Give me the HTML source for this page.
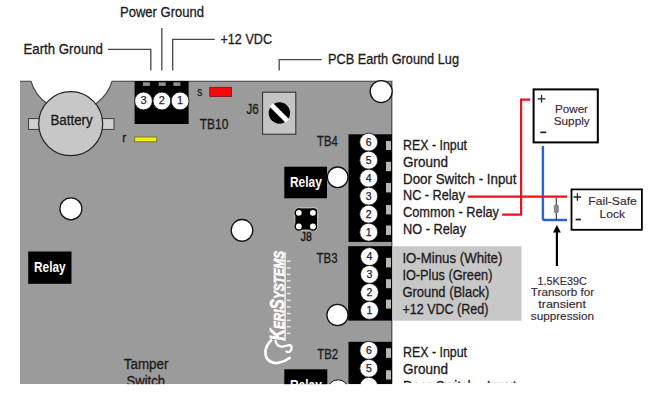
<!DOCTYPE html>
<html><head><meta charset="utf-8">
<style>
html,body{margin:0;padding:0;background:#fff;width:650px;height:408px;overflow:hidden}
svg{display:block}
text{font-family:"Liberation Sans",sans-serif}
.lbl{font-size:14px;fill:#1e1a1c;stroke:#1e1a1c;stroke-width:0.3px}
.brd{font-size:14px;fill:#1a1a1a;stroke:#1a1a1a;stroke-width:0.3px}
.num{font-size:10.5px;fill:#1c1c30;stroke:#1c1c30;stroke-width:0.25px;text-anchor:middle}
.dg{font-size:11px;fill:#3a2838}
.dg text{stroke:#3a2838;stroke-width:0.15px}
</style></head>
<body>
<svg width="650" height="408" viewBox="0 0 650 408">
<!-- top labels -->
<text class="lbl" x="120" y="16.6" textLength="84" lengthAdjust="spacingAndGlyphs">Power Ground</text>
<text class="lbl" x="23.5" y="54" textLength="79.5" lengthAdjust="spacingAndGlyphs">Earth Ground</text>
<text class="lbl" x="220.5" y="43.5" textLength="51.5" lengthAdjust="spacingAndGlyphs">+12 VDC</text>
<text class="lbl" x="328" y="64.2" textLength="131" lengthAdjust="spacingAndGlyphs">PCB Earth Ground Lug</text>
<g stroke="#474747" stroke-width="1.3" fill="none">
<path d="M108 49.3H150.8V70.6"/>
<path d="M161.8 28V70.6"/>
<path d="M214.7 39.3H172.7V70.6"/>
<path d="M321.6 59.6H279.2V70.6"/>
</g>

<!-- board -->
<path d="M20 81H30.9A42.4 42.4 0 0 0 112.1 81H392V384H20Z" fill="#9b9b9b"/>
<path d="M20 81.2H30.9A42.4 42.4 0 0 0 112.1 81.2H391.8V384" fill="none" stroke="#444" stroke-width="1.15"/>

<!-- battery tabs -->
<rect x="28.5" y="118.6" width="14" height="10.8" fill="#cfcfcf" stroke="#333" stroke-width="0.9"/>
<rect x="99" y="118.6" width="15" height="10.8" fill="#cfcfcf" stroke="#333" stroke-width="0.9"/>
<circle cx="70.7" cy="123.7" r="32" fill="#c7c7c7" stroke="#222" stroke-width="1.2"/>
<text class="brd" x="50.4" y="124.5" textLength="42.3" lengthAdjust="spacingAndGlyphs">Battery</text>

<!-- TB10 -->
<rect x="134.6" y="81" width="54" height="43" fill="#000"/>
<rect x="142.9" y="82.3" width="7" height="3.6" fill="#8f8f8f"/>
<rect x="158.7" y="82.3" width="7" height="3.6" fill="#8f8f8f"/>
<rect x="173.4" y="82.3" width="7" height="3.6" fill="#8f8f8f"/>
<g fill="#fff" stroke="#111" stroke-width="0.8">
<circle cx="143.5" cy="101" r="8.9"/>
<circle cx="161.9" cy="101" r="8.9"/>
<circle cx="180.1" cy="101" r="8.9"/>
</g>
<text class="num" x="143.5" y="104.3" style="font-size:11px;stroke:#2a2a3a;stroke-width:0.25px">3</text>
<text class="num" x="161.9" y="104.3" style="font-size:11px;stroke:#2a2a3a;stroke-width:0.25px">2</text>
<text class="num" x="180.1" y="104.3" style="font-size:11px;stroke:#2a2a3a;stroke-width:0.25px">1</text>
<text class="brd" x="199.8" y="129" textLength="28.6" lengthAdjust="spacingAndGlyphs">TB10</text>
<text class="brd" x="197.2" y="96" style="font-size:12px" textLength="5" lengthAdjust="spacingAndGlyphs">s</text>
<rect x="209.8" y="87.3" width="21.8" height="9.2" fill="#f80808" stroke="#801010" stroke-width="0.8"/>
<text class="brd" x="122.3" y="142.3" style="font-size:12px">r</text>
<rect x="134.8" y="137" width="22" height="4.8" fill="#f0ee10" stroke="#6a6a10" stroke-width="0.8"/>

<!-- J6 -->
<rect x="262.6" y="92.2" width="33.2" height="42" fill="#c4c4c4" stroke="#2a2a2a" stroke-width="1"/>
<circle cx="279.4" cy="113" r="10.7" fill="#000"/>
<path d="M271.4 105 L287.4 121" stroke="#fff" stroke-width="5"/>
<text class="brd" x="246.6" y="113.5" textLength="12.2" lengthAdjust="spacingAndGlyphs">J6</text>

<!-- mounting holes -->
<g fill="#fff" stroke="#111" stroke-width="1.3">
<circle cx="381.2" cy="91.6" r="11"/>
<circle cx="70.9" cy="208.8" r="11"/>
<circle cx="337.7" cy="177.3" r="10.3"/>
<circle cx="337.5" cy="315" r="10.6"/>
<circle cx="242" cy="230.3" r="10.8"/>
</g>

<!-- TB4 -->
<rect x="348.5" y="134.3" width="43.5" height="107.6" fill="#000"/>
<g fill="#b8b8b0">
<rect x="386" y="141" width="5" height="9"/>
<rect x="386" y="161.8" width="5" height="9.4"/>
<rect x="386" y="183" width="5" height="9.4"/>
<rect x="386" y="205" width="5" height="9.4"/>
<rect x="386" y="225.5" width="5" height="9.5"/>
</g>
<g fill="#fff" stroke="#111" stroke-width="0.8">
<circle cx="368.7" cy="142.2" r="9"/>
<circle cx="368.7" cy="160.2" r="9"/>
<circle cx="368.7" cy="178.2" r="9"/>
<circle cx="368.7" cy="196.2" r="9"/>
<circle cx="368.7" cy="214.2" r="9"/>
<circle cx="368.7" cy="232.2" r="9"/>
</g>
<text class="num" x="368.7" y="146.0">6</text>
<text class="num" x="368.7" y="164.0">5</text>
<text class="num" x="368.7" y="182.0">4</text>
<text class="num" x="368.7" y="200.0">3</text>
<text class="num" x="368.7" y="218.0">2</text>
<text class="num" x="368.7" y="236.0">1</text>
<text class="brd" x="317" y="145.6" textLength="20.7" lengthAdjust="spacingAndGlyphs">TB4</text>

<!-- relay 1 -->
<rect x="284.3" y="166.7" width="42.7" height="31.6" fill="#000"/>
<text x="290" y="187" font-size="14" font-weight="bold" fill="#fff" textLength="31.8" lengthAdjust="spacingAndGlyphs">Relay</text>

<!-- J8 -->
<rect x="294.9" y="207.9" width="22.7" height="22.2" rx="3" fill="#000" stroke="#d8d4c0" stroke-width="0.9"/>
<g fill="#000">
<circle cx="298.8" cy="212.8" r="4.3"/>
<circle cx="312.9" cy="212.8" r="4.3"/>
<circle cx="298.8" cy="226.4" r="4.3"/>
<circle cx="312.9" cy="226.4" r="4.3"/>
</g>
<g fill="#fff">
<circle cx="298.8" cy="212.8" r="2.9"/>
<circle cx="312.9" cy="212.8" r="2.9"/>
<circle cx="298.8" cy="226.4" r="2.9"/>
<circle cx="312.9" cy="226.4" r="2.9"/>
</g>
<text class="brd" x="300.8" y="241" style="font-size:13px;stroke-width:0.5px" textLength="11" lengthAdjust="spacingAndGlyphs">J8</text>

<!-- TB3 -->
<rect x="348.2" y="246.2" width="43.8" height="74.4" fill="#000"/>
<g fill="#b8b8b0">
<rect x="386" y="257.8" width="5" height="9.6"/>
<rect x="386" y="279.2" width="5" height="9"/>
<rect x="386" y="299.6" width="5" height="9"/>
</g>
<g fill="#fff" stroke="#111" stroke-width="0.8">
<circle cx="369.5" cy="256.6" r="9"/>
<circle cx="369.5" cy="274.4" r="9"/>
<circle cx="369.5" cy="292.4" r="9"/>
<circle cx="369.5" cy="310.4" r="9"/>
</g>
<text class="num" x="369.5" y="260.4">4</text>
<text class="num" x="369.5" y="278.2">3</text>
<text class="num" x="369.5" y="296.2">2</text>
<text class="num" x="369.5" y="314.2">1</text>
<text class="brd" x="316.6" y="262.7" textLength="20.9" lengthAdjust="spacingAndGlyphs">TB3</text>

<!-- TB2 -->
<rect x="348.5" y="341.8" width="43.5" height="42.5" fill="#000"/>
<g fill="#b8b8b0">
<rect x="386" y="348.2" width="5" height="9.7"/>
<rect x="386" y="370.3" width="5" height="9.2"/>
</g>
<g fill="#fff" stroke="#111" stroke-width="0.8">
<circle cx="368.8" cy="350.4" r="9"/>
<circle cx="368.8" cy="368.3" r="9"/>
<circle cx="368.8" cy="386.3" r="9"/>
</g>
<text class="num" x="368.8" y="354.2">6</text>
<text class="num" x="368.8" y="372.1">5</text>
<text class="brd" x="317.3" y="358.5" textLength="20.7" lengthAdjust="spacingAndGlyphs">TB2</text>

<!-- relay 2 -->
<rect x="284.3" y="369.3" width="43" height="20" fill="#000"/>
<text x="290" y="390" font-size="14" font-weight="bold" fill="#fff" textLength="31.8" lengthAdjust="spacingAndGlyphs">Relay</text>
<circle cx="338" cy="390.3" r="10.5" fill="#fff" stroke="#111" stroke-width="1"/>

<!-- relay left -->
<rect x="28.2" y="251.5" width="43.3" height="32.3" fill="#000"/>
<text x="34" y="272" font-size="14" font-weight="bold" fill="#fff" textLength="31.6" lengthAdjust="spacingAndGlyphs">Relay</text>

<!-- tamper -->
<text class="brd" x="123.8" y="368.9" textLength="44.7" lengthAdjust="spacingAndGlyphs">Tamper</text>
<text class="brd" x="126.5" y="386" textLength="38.5" lengthAdjust="spacingAndGlyphs">Switch</text>

<!-- logo -->
<g fill="#fff" stroke="#fff" stroke-width="0.6">
<text transform="translate(284 340.5) rotate(-90)" font-size="15" font-weight="bold" font-style="italic" textLength="89.5" lengthAdjust="spacingAndGlyphs"><tspan font-size="20.5">K</tspan>ERI<tspan font-size="20">S</tspan>YSTEMS</text>
</g>
<rect x="284.4" y="252" width="1.3" height="89" fill="#fff"/>
<g fill="#e6e6e6">
<rect x="286.8" y="260.5" width="3.8" height="1.5"/>
<rect x="286.8" y="267.2" width="3.8" height="1.5"/>
<rect x="286.8" y="273.6" width="3.8" height="1.5"/>
<rect x="286.8" y="280.2" width="3.8" height="1.5"/>
<rect x="286.8" y="286.6" width="3.8" height="1.5"/>
<rect x="286.8" y="292.8" width="3.8" height="1.5"/>
<rect x="286.8" y="299.6" width="3.8" height="1.5"/>
<rect x="286.8" y="306.2" width="3.8" height="1.5"/>
<rect x="286.8" y="312.8" width="3.8" height="1.5"/>
<rect x="286.8" y="319.6" width="3.8" height="1.5"/>
<rect x="286.8" y="326.0" width="3.8" height="1.5"/>
<rect x="286.8" y="332.6" width="3.8" height="1.5"/>
</g>
<g fill="none" stroke="#fff" stroke-linecap="round">
<path d="M271 340.5C266.5 345 264.8 350.5 265.6 355C266.8 360.8 272.5 364 278.5 362.8C283.5 361.8 287.3 359.8 289.6 358" stroke-width="2.7"/>
<path d="M275.5 341C276.5 345 279 347 283 346.6C286 346.2 288 344.6 290.4 345.2C292.4 346.6 291.8 350.4 289.6 351.8C288.6 352.3 287.2 352.1 286.4 351.6" stroke-width="2.3"/>
</g>
<!-- clip bottom -->
<rect x="0" y="384.2" width="650" height="24" fill="#fff"/>

<!-- right text TB4 -->
<text class="lbl" x="403" y="150.2" textLength="64" lengthAdjust="spacingAndGlyphs">REX - Input</text>
<text class="lbl" x="403" y="166.9" textLength="45" lengthAdjust="spacingAndGlyphs">Ground</text>
<text class="lbl" x="403" y="183.6" textLength="113.5" lengthAdjust="spacingAndGlyphs">Door Switch - Input</text>
<text class="lbl" x="403" y="200.4" textLength="62" lengthAdjust="spacingAndGlyphs">NC - Relay</text>
<text class="lbl" x="403" y="217.1" textLength="96" lengthAdjust="spacingAndGlyphs">Common - Relay</text>
<text class="lbl" x="403" y="233.9" textLength="63" lengthAdjust="spacingAndGlyphs">NO - Relay</text>

<!-- TB3 gray box -->
<rect x="392.8" y="246.2" width="128.7" height="74.5" fill="#c8c8c8"/>
<text class="lbl" x="402.4" y="262.8" textLength="100" lengthAdjust="spacingAndGlyphs">IO-Minus (White)</text>
<text class="lbl" x="402.4" y="279.8" textLength="90" lengthAdjust="spacingAndGlyphs">IO-Plus (Green)</text>
<text class="lbl" x="402.4" y="296.7" textLength="87" lengthAdjust="spacingAndGlyphs">Ground (Black)</text>
<text class="lbl" x="402.4" y="313.6" textLength="86" lengthAdjust="spacingAndGlyphs">+12 VDC (Red)</text>

<!-- TB2 text -->
<text class="lbl" x="403" y="356.6" textLength="64" lengthAdjust="spacingAndGlyphs">REX - Input</text>
<text class="lbl" x="403" y="373.8" textLength="45" lengthAdjust="spacingAndGlyphs">Ground</text>
<text class="lbl" x="403" y="390.5" textLength="113.5" lengthAdjust="spacingAndGlyphs">Door Switch - Input</text>
<rect x="392.5" y="383" width="257" height="25" fill="#fff"/>

<!-- wiring -->
<g fill="none" stroke-width="2.2">
<path d="M542.9 146V218A2 2 0 0 0 544.9 220H567" stroke="#2a64cc" stroke-width="2.4"/>
<path d="M467.7 196.6H567.2" stroke="#e8141c" stroke-width="2.4"/>
<path d="M502.2 214.7H521.1V99.6H530.2" stroke="#e8141c"/>
</g>
<!-- transorb -->
<path d="M556.3 197.8V220" stroke="#444" stroke-width="1.2"/>
<path d="M556.3 204.4L558.3 205.6V212L556.3 213.2L554.3 212V205.6Z" fill="#8a8a8a" stroke="#5a5a5a" stroke-width="0.6"/>
<!-- arrow -->
<path d="M556.9 231V266" stroke="#000" stroke-width="2.2"/>
<path d="M556.9 224.9L553 232.5H560.8Z" fill="#000"/>

<!-- boxes -->
<rect x="533.6" y="89.4" width="64.2" height="53" fill="none" stroke="#000" stroke-width="2"/>
<rect x="571.5" y="189.4" width="70.4" height="40.4" fill="none" stroke="#000" stroke-width="1.8"/>
<g class="dg">
<path d="M537.6 98.9H545.4M541.5 95V102.6" stroke="#222" stroke-width="1.3" fill="none"/>
<rect x="540.3" y="131.5" width="5.9" height="1.7" fill="#222"/>
<text x="555" y="112.8" textLength="33" lengthAdjust="spacingAndGlyphs">Power</text>
<text x="553.7" y="125.3" textLength="36" lengthAdjust="spacingAndGlyphs">Supply</text>
<path d="M573.5 197H581.2M577.4 193.2V200.8" stroke="#222" stroke-width="1.3" fill="none"/>
<rect x="575.6" y="218.6" width="5.3" height="1.8" fill="#222"/>
<text x="588.3" y="205.4" textLength="48.5" lengthAdjust="spacingAndGlyphs">Fail-Safe</text>
<text x="599.5" y="218.3" textLength="25.5" lengthAdjust="spacingAndGlyphs">Lock</text>
<text x="537.5" y="284.7" textLength="49.3" lengthAdjust="spacingAndGlyphs">1.5KE39C</text>
<text x="530.8" y="296.3" textLength="63.3" lengthAdjust="spacingAndGlyphs">Transorb for</text>
<text x="538.3" y="308.1" textLength="47.7" lengthAdjust="spacingAndGlyphs">transient</text>
<text x="530.8" y="319.6" textLength="63.2" lengthAdjust="spacingAndGlyphs">suppression</text>
</g>
</svg>
</body></html>
